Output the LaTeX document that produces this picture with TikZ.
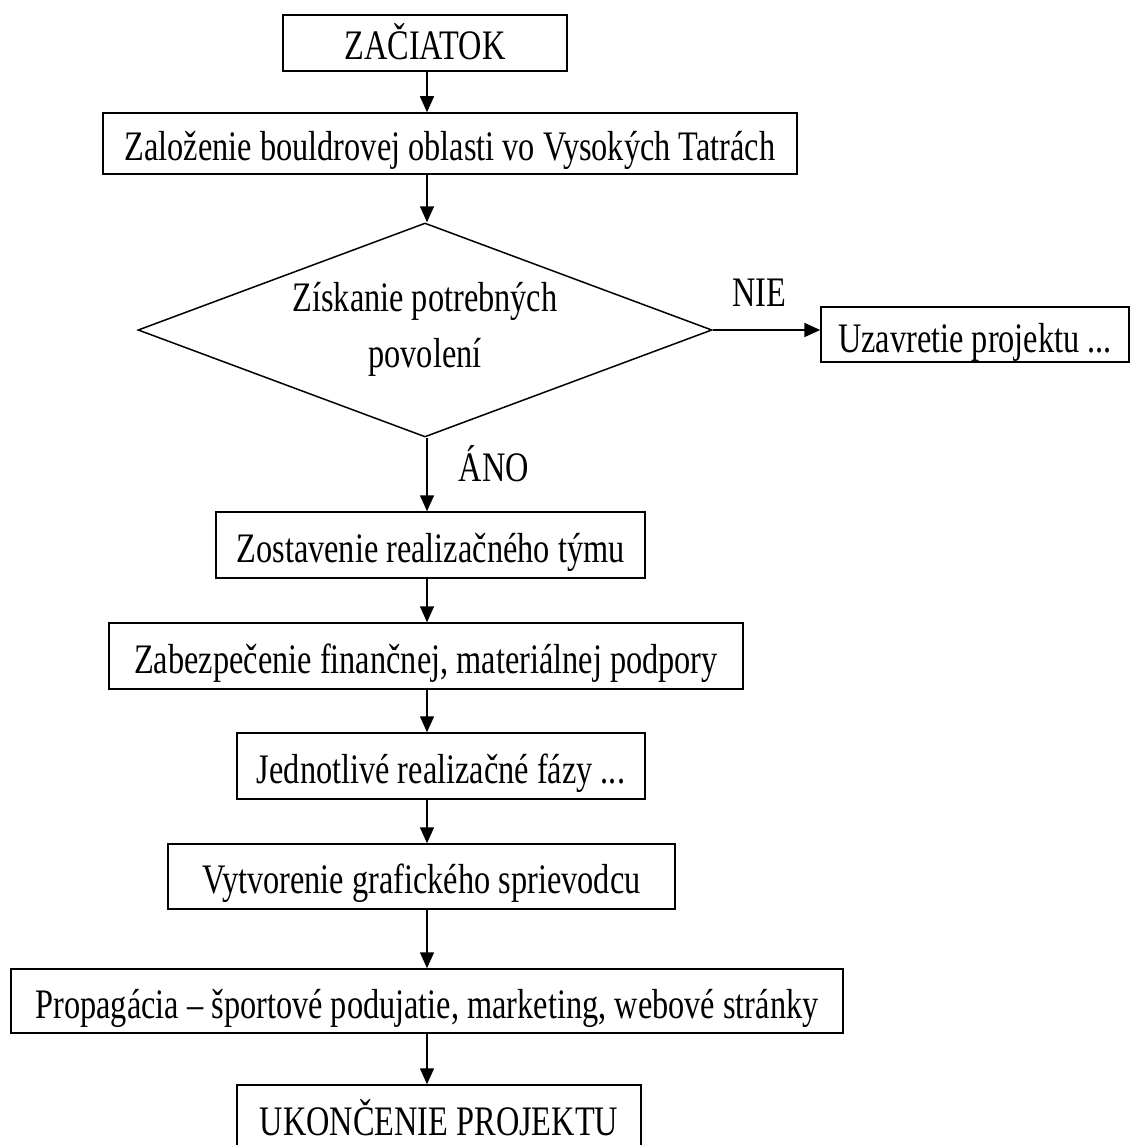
\documentclass[tikz,border=0pt]{standalone}
\usepackage{fontspec}
\setmainfont{Liberation Serif}[FakeStretch=0.77]
\usetikzlibrary{shapes.geometric,arrows.meta}
\begin{document}
\begin{tikzpicture}[x=1pt,y=-1pt,
  txt/.style={font=\fontsize{42}{56}\selectfont},
  box/.style={txt, draw, line width=1.5pt, inner sep=0pt, text height=34pt, text depth=0pt},
  arr/.style={line width=1.5pt, -{Triangle[length=16pt,width=14pt]}},
  lbl/.style={txt, inner sep=0pt, anchor=base}]
\useasboundingbox[fill=white] (0,0) rectangle (1136,1145);
\coordinate (spine) at (427,0);
\node[box, minimum width=284pt, minimum height=56pt] (start) at (425,43) {ZAČIATOK};
\node[box, minimum width=694pt, minimum height=61pt] (zal) at (450,143.5) {Založenie bouldrovej oblasti vo Vysokých Tatrách};
\node[txt, draw, line width=1.5pt, shape=diamond, aspect=2.68, inner sep=0pt,
      minimum width=574pt, minimum height=214pt, align=center, text depth=10pt] (dia) at (425,330)
      {Získanie potrebných\\povolení};
\node[draw, line width=1.5pt, inner sep=0pt, minimum width=308pt, minimum height=55pt,
      path picture={\node[lbl] at ([yshift=-18pt]path picture bounding box.center) {Uzavretie projektu ...};}]
      (uzav) at (975,334.5) {};
\node[lbl] (nie) at (759,306) {NIE};
\node[lbl] (ano) at (494,481) {ÁNO};
\node[box, minimum width=429pt, minimum height=66pt] (zost) at (430.5,545) {Zostavenie realizačného týmu};
\node[box, minimum width=634pt, minimum height=66pt] (zab) at (426,656) {Zabezpečenie finančnej, materiálnej podpory};
\node[box, minimum width=408pt, minimum height=66pt] (jed) at (441,766) {Jednotlivé realizačné fázy ...};
\node[box, minimum width=507pt, minimum height=65pt] (vyt) at (421.5,876.5) {Vytvorenie grafického sprievodcu};
\node[box, minimum width=832pt, minimum height=64pt] (prop) at (427,1001) {Propagácia – športové podujatie, marketing, webové stránky};
\node[box, minimum width=404pt, minimum height=66pt] (ukon) at (439,1118) {UKONČENIE PROJEKTU};
\draw[arr] (start.south -| spine) -- (zal.north -| spine);
\draw[arr] (zal.south -| spine) -- (dia.north -| spine);
\draw[arr] (dia.south -| spine) -- (zost.north -| spine);
\draw[arr] (zost.south -| spine) -- (zab.north -| spine);
\draw[arr] (zab.south -| spine) -- (jed.north -| spine);
\draw[arr] (jed.south -| spine) -- (vyt.north -| spine);
\draw[arr] (vyt.south -| spine) -- (prop.north -| spine);
\draw[arr] (prop.south -| spine) -- (ukon.north -| spine);
\draw[arr, line width=2pt] (dia.east) -- (dia.east -| uzav.west);
\end{tikzpicture}
\end{document}
